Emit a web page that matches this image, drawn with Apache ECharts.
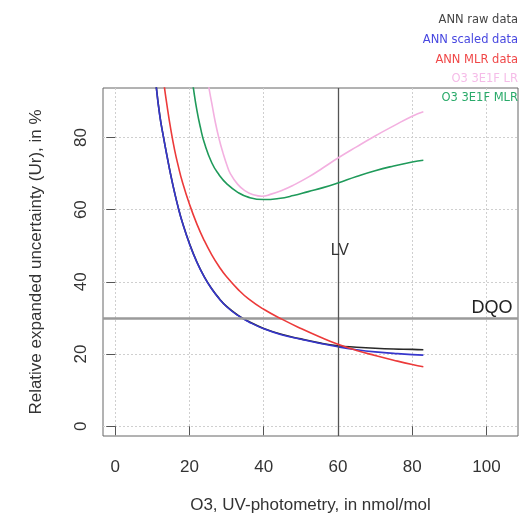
<!DOCTYPE html>
<html><head><meta charset="utf-8">
<script src="https://cdn.jsdelivr.net/npm/echarts@6/dist/echarts.min.js"></script>
<style>html,body{margin:0;padding:0;background:#fff}#c{width:523px;height:516px}</style>
</head><body><div id="c"></div>
<script>
// ---- data ----
const xTicks = [0, 20, 40, 60, 80, 100];
const yTicks = [0, 20, 40, 60, 80];

const annX = [10.5, 11, 12, 13, 14, 15, 16, 17, 18, 20, 22, 24, 26, 28, 30, 33, 36, 40, 45, 50, 55, 60, 65, 70, 75, 80, 83];
const annRawY = [101, 94.6, 86.1, 80.1, 74.6, 69.4, 64.7, 60.5, 56.8, 50.6, 45.5, 41.4, 38.1, 35.4, 33.2, 30.8, 29.0, 27.1, 25.4, 24.2, 23.1, 22.3, 21.9, 21.6, 21.4, 21.3, 21.2];
const annScaledY = [101, 94.5, 86, 80, 74.5, 69.3, 64.6, 60.4, 56.7, 50.5, 45.4, 41.3, 38, 35.3, 33.1, 30.7, 28.9, 27.0, 25.3, 24.1, 23.0, 22.0, 21.2, 20.6, 20.2, 19.85, 19.7];

const mlrX = [12.7, 13, 14, 15, 16, 17, 18, 20, 22, 24, 26, 28, 30, 33, 36, 40, 45, 50, 55, 60, 65, 70, 75, 80, 83];
const mlrY = [100, 96, 88.5, 82, 76.5, 72, 68, 61.5, 56, 51.4, 47.5, 44.2, 41.4, 38, 35.2, 32.4, 29.6, 27.1, 24.8, 22.7, 21, 19.6, 18.3, 17.1, 16.5];

const lrX = [24.6, 25.2, 26, 27, 28, 29, 30, 31, 33, 35, 37, 39.5, 42, 45, 48, 52, 56, 60, 65, 70, 75, 80, 83];
const lrY = [98, 94, 89.5, 84, 79.5, 75.8, 72.6, 70, 67, 65.2, 64.2, 63.7, 64.3, 65.4, 66.8, 69, 71.6, 74.3, 77.4, 80.4, 83.2, 85.9, 87.1];

const mlr3X = [20.3, 21, 22, 23, 24, 26, 28, 30, 33, 36, 40, 44, 48, 52, 56, 60, 65, 70, 75, 80, 83];
const mlr3Y = [99, 94, 87.5, 82.5, 78.5, 73, 69.6, 67.2, 64.8, 63.4, 62.8, 63.1, 63.9, 65, 66.1, 67.4, 69.2, 70.8, 72.1, 73.2, 73.7];

const seriesNames = ['ANN raw data', 'ANN scaled data', 'ANN MLR data', 'O3 3E1F LR', 'O3 3E1F MLR'];
const lvValue = 60;
const dqoValue = 30;
const lvText = 'LV';
const dqoText = 'DQO';
const xTitle = 'O3, UV-photometry, in nmol/mol';
const yTitle = 'Relative expanded uncertainty (Ur), in %';

// ---- chart ----
const zip = (xs, ys) => xs.map((x, i) => [x, ys[i]]);
const lineColors = ['#2a2a2a', '#3636cc', '#ec3a3a', '#f3b0e0', '#1f9a5a'];
const textColors = ['#444444', '#4848e0', '#f04848', '#f5bce8', '#2aaa6a'];
const seriesData = [zip(annX, annRawY), zip(annX, annScaledY), zip(mlrX, mlrY), zip(lrX, lrY), zip(mlr3X, mlr3Y)];
const FONT = '"Liberation Sans", Arial, sans-serif';

const chart = echarts.init(document.getElementById('c'), null, {renderer: 'canvas'});

const series = seriesNames.map((n, i) => ({
  name: n, type: 'line', data: seriesData[i], showSymbol: false, symbol: 'none',
  smooth: 0.5, clip: true,
  lineStyle: {color: lineColors[i], width: 1.6}, z: 3 + i
}));
series.push({
  name: 'refs', type: 'line', data: [], silent: true, z: 2,
  markLine: {
    silent: true, symbol: 'none', animation: false,
    label: {show: false},
    data: [
      {yAxis: dqoValue, lineStyle: {color: '#9a9a9a', width: 2.6, type: 'solid'}},
      {xAxis: lvValue, lineStyle: {color: '#555', width: 1.3, type: 'solid'}}
    ]
  }
});

chart.setOption({
  animation: false,
  backgroundColor: '#fff',
  grid: {left: 103, right: 5, top: 88, bottom: 80, show: true, borderColor: '#666', borderWidth: 1,
         backgroundColor: 'transparent', containLabel: false, outerBoundsMode: 'none'},
  xAxis: {
    type: 'value', min: -3.3, max: 108.5,
    name: xTitle, nameLocation: 'middle', nameGap: 61,
    nameTextStyle: {fontFamily: FONT, fontSize: 17, color: '#333'},
    axisLine: {show: false},
    axisTick: {show: true, inside: false, length: 9, customValues: xTicks, lineStyle: {color: '#555'}},
    axisLabel: {customValues: xTicks, fontFamily: FONT, fontSize: 17, color: '#333', margin: 23},
    splitLine: {show: true, lineStyle: {color: '#cfcfcf', type: [2, 2], width: 1}}
  },
  yAxis: {
    type: 'value', min: -2.7, max: 93.7,
    name: yTitle, nameLocation: 'middle', nameGap: 58,
    nameTextStyle: {fontFamily: FONT, fontSize: 17, color: '#333'},
    axisLine: {show: false},
    axisTick: {show: true, inside: false, length: 9, customValues: yTicks, lineStyle: {color: '#555'}},
    axisLabel: {customValues: yTicks, rotate: 90, fontFamily: FONT, fontSize: 17, color: '#333', margin: 13},
    splitLine: {show: true, lineStyle: {color: '#cfcfcf', type: [2, 2], width: 1}}
  },
  series: series
});

const lvPos = chart.convertToPixel({gridIndex: 0}, [lvValue + 0.5, 48.7]);
const dqoPos = chart.convertToPixel({gridIndex: 0}, [101.5, dqoValue]);
const legendY = [20, 40, 60, 79, 98];
const graphics = seriesNames.map((n, i) => ({
  type: 'text', x: 518, y: legendY[i], z: 100,
  style: {text: n, fill: textColors[i], font: '11.5px "DejaVu Sans", sans-serif', align: 'right', verticalAlign: 'middle'}
}));
graphics.push({type: 'text', x: lvPos[0], y: lvPos[1], z: 100,
  style: {text: lvText, fill: '#333', font: '16px ' + FONT, align: 'center', verticalAlign: 'middle'}});
graphics.push({type: 'text', x: dqoPos[0], y: dqoPos[1] - 1, z: 100,
  style: {text: dqoText, fill: '#222', font: '18px ' + FONT, align: 'center', verticalAlign: 'bottom'}});
chart.setOption({graphic: graphics});
</script>
</body></html>
